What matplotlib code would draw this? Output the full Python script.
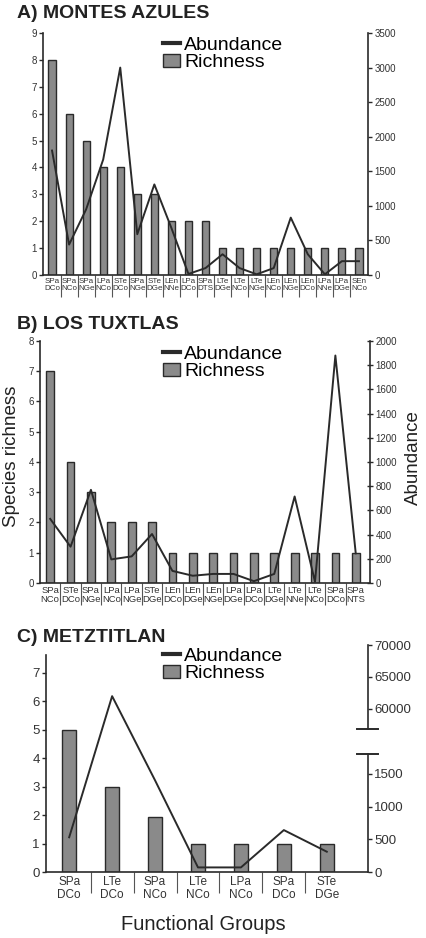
# Richness (bars) and abundance (line) of functional groups at three sites
import numpy as np
import matplotlib
matplotlib.use('Agg')
import matplotlib.pyplot as plt
from matplotlib.transforms import blended_transform_factory

plt.rcParams['font.family'] = ['Liberation Sans', 'DejaVu Sans']
NARROW = ['Liberation Sans Narrow', 'Liberation Sans', 'DejaVu Sans']

# A) Montes Azules
groups_a = ['SPa\nDCo', 'SPa\nNCo', 'SPa\nNGe', 'LPa\nNCo', 'STe\nDCo', 'SPa\nNGe',
            'STe\nDGe', 'LEn\nNNe', 'LPa\nDCo', 'SPa\nDTS', 'LTe\nDGe', 'LTe\nNCo',
            'LTe\nNGe', 'LEn\nNCo', 'LEn\nNGe', 'LEn\nDCo', 'LPa\nNNe', 'LPa\nDGe',
            'SEn\nNCo']
rich_a = [8, 6, 5, 4, 4, 3, 3, 2, 2, 2, 1, 1, 1, 1, 1, 1, 1, 1, 1]
abund_a = [1800, 440, 950, 1670, 3000, 590, 1310, 680, 15, 100, 300, 100,
           10, 100, 830, 300, 10, 200, 200]

# B) Los Tuxtlas
groups_b = ['SPa\nNCo', 'STe\nDCo', 'SPa\nNGe', 'LPa\nNCo', 'LPa\nNGe', 'STe\nDGe',
            'LEn\nDCo', 'LEn\nDGe', 'LEn\nNGe', 'LPa\nDGe', 'LPa\nDCo', 'LTe\nDGe',
            'LTe\nNNe', 'LTe\nNCo', 'SPa\nDCo', 'SPa\nNTS']
rich_b = [7, 4, 3, 2, 2, 2, 1, 1, 1, 1, 1, 1, 1, 1, 1, 1]
abund_b = [530, 300, 770, 195, 220, 405, 100, 60, 75, 75, 15, 75,
           715, 10, 1880, 245]

# C) Metztitlan
groups_c = ['SPa\nDCo', 'LTe\nDCo', 'SPa\nNCo', 'LTe\nNCo', 'LPa\nNCo',
            'SPa\nDCo', 'STe\nDGe']
rich_c = [5, 3, 1.95, 1, 1, 1, 1]
abund_c = [530, 62000, 1400, 70, 70, 640, 310]

BAR_FC = '#8a8a8a'
DARK = '#2a2a2a'
W, H = 426, 938

fig = plt.figure(figsize=(W / 100, H / 100), dpi=100)


def rect(x0, x1, y0, y1):
    # pixel box -> figure fraction
    return [x0 / W, 1 - y1 / H, (x1 - x0) / W, (y1 - y0) / H]


def panel(box, groups, rich, abund, xlim, width, lab_font, lab_size, tick_size,
          sep_len, leg_y, title, title_y):
    ax = fig.add_axes(box)
    x = np.arange(len(groups))
    bars = ax.bar(x, rich, width=width, color=BAR_FC, edgecolor=DARK,
                  linewidth=1.0, zorder=2, label='Richness')
    ax.set_xlim(*xlim)
    ax.set_xticks(x)
    ax.set_xticklabels(groups, fontsize=lab_size, family=lab_font,
                       linespacing=1.05, color='#333333')
    ax.set_xticks(x[:-1] + 0.5, minor=True)
    ax.tick_params(axis='x', which='major', length=0, pad=2)
    ax.tick_params(axis='x', which='minor', length=sep_len, width=0.8,
                   color='#555555')
    ax.tick_params(axis='y', labelsize=tick_size, length=3, width=1,
                   color=DARK, labelcolor='#333333', pad=1.5)
    ax.spines['top'].set_visible(False)
    ax.spines['right'].set_visible(False)
    for s in ['left', 'bottom']:
        ax.spines[s].set_linewidth(1.2)
        ax.spines[s].set_color(DARK)

    ax2 = ax.twinx()
    line, = ax2.plot(x, abund, color=DARK, lw=1.4, zorder=3, label='Abundance')
    ax2.set_xlim(*xlim)
    ax2.spines['top'].set_visible(False)
    ax2.spines['left'].set_visible(False)
    ax2.spines['bottom'].set_visible(False)
    ax2.spines['right'].set_linewidth(1.2)
    ax2.spines['right'].set_color(DARK)
    ax2.tick_params(axis='y', labelsize=tick_size, length=3, width=1,
                    color=DARK, labelcolor='#333333', pad=1.5)

    leg = ax.legend([line, bars], ['Abundance', 'Richness'], loc='upper left',
                    bbox_to_anchor=(163 / W, 1 - leg_y / H),
                    bbox_transform=fig.transFigure, frameon=False,
                    fontsize=14, handlelength=0.85, handletextpad=0.25,
                    labelspacing=0.0, borderpad=0, borderaxespad=0)
    leg.legend_handles[0].set_linewidth(3)
    fig.text(17 / W, 1 - title_y / H, title, fontsize=14, fontweight='bold',
             color='#222222', va='baseline')
    return ax, ax2


# Panel A
ax, ax2 = panel(rect(43, 368, 33, 275), groups_a, rich_a, abund_a,
                (-0.53, 18.53), 0.42, NARROW, 5.8, 7, 16, 36,
                'A) MONTES AZULES', 18)
ax.set_ylim(0, 9)
ax.set_yticks(range(0, 10))
ax2.set_ylim(0, 3500)
ax2.set_yticks(range(0, 3501, 500))

# Panel B
ax, ax2 = panel(rect(40, 370, 341, 583), groups_b, rich_b, abund_b,
                (-0.5, 15.7), 0.38, NARROW, 6.8, 7, 16, 345,
                'B) LOS TUXTLAS', 329)
ax.set_ylim(0, 8)
ax.set_yticks(range(0, 9))
ax2.set_ylim(0, 2000)
ax2.set_yticks(range(0, 2001, 200))
ax2.tick_params(axis='y', direction='inout', length=5)
fig.text(12 / W, 1 - 456 / H, 'Species richness', rotation=90, fontsize=13.5,
         ha='center', va='center', color='#222222')
fig.text(413 / W, 1 - 458 / H, 'Abundance', rotation=90, fontsize=13.5,
         ha='center', va='center', color='#222222')

# Panel C: broken abundance axis (0-1800 below, 56800-70000 above)
brk_v = np.array([0, 1800, 56800, 70000])
brk_p = np.array([0, 117.7, 142.4, 226.7])


def fwd(v):
    v = np.asarray(v, dtype=float)
    out = np.interp(v, brk_v, brk_p)
    out = np.where(v < 0, v * brk_p[1] / brk_v[1], out)
    k = (brk_p[3] - brk_p[2]) / (brk_v[3] - brk_v[2])
    return np.where(v > brk_v[3], brk_p[3] + (v - brk_v[3]) * k, out)


def inv(p):
    p = np.asarray(p, dtype=float)
    out = np.interp(p, brk_p, brk_v)
    out = np.where(p < 0, p * brk_v[1] / brk_p[1], out)
    k = (brk_v[3] - brk_v[2]) / (brk_p[3] - brk_p[2])
    return np.where(p > brk_p[3], brk_v[3] + (p - brk_p[3]) * k, out)


ax, ax2 = panel(rect(46, 368, 645, 872), groups_c, rich_c, abund_c,
                (-0.54, 6.96), 0.33, ['Liberation Sans', 'DejaVu Sans'], 8.5,
                9.5, 15, 647, 'C) METZTITLAN', 642)
ax.set_ylim(0, 7.98)
ax.set_yticks(range(0, 8))
ax.spines['left'].set_bounds(0, 7.63)
ax.tick_params(axis='x', which='major', pad=3)
ax2.set_yscale('function', functions=(fwd, inv))
ax2.set_ylim(0, 70000)
ax2.set_yticks([0, 500, 1000, 1500, 60000, 65000, 70000])
ax2.set_yticklabels(['0', '500', '1000', '1500', '60000', '65000', '70000'])
ax2.spines['right'].set_bounds(0, 1800)
tr = blended_transform_factory(ax2.transAxes, ax2.transData)
ax2.plot([1, 1], [56800, 70000], color=DARK, lw=1.2, transform=tr,
         clip_on=False)
for v in [1800, 56800]:
    ax2.plot([1 - 0.034, 1 + 0.031], [v, v], color=DARK, lw=1.4,
             transform=tr, clip_on=False)
fig.text(203 / W, 1 - 930 / H, 'Functional Groups', fontsize=14.5,
         ha='center', va='baseline', color='#222222')

fig.savefig('out.png', dpi=100)
